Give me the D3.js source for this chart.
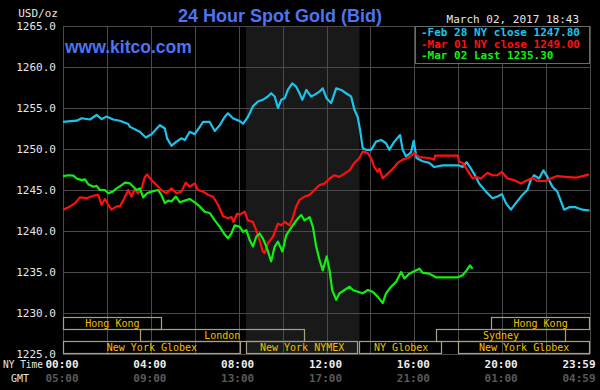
<!DOCTYPE html>
<html>
<head>
<meta charset="utf-8">
<script src="https://cdn.jsdelivr.net/npm/d3@7"></script>
<style>
    html, body { margin: 0; padding: 0; background: #000; }
    svg { display: block; }
</style>
</head>
<body>
<svg id="gold-chart" width="600" height="390"></svg>
<script>
// price ticks (USD/oz)
const priceTicks = [1225, 1230, 1235, 1240, 1245, 1250, 1255, 1260, 1265];

// time axis labels (NY time hour -> labels)
const timeTicks = [0, 4, 8, 12, 16, 20, 24];
const nyLabels = ["00:00", "04:00", "08:00", "12:00", "16:00", "20:00", "23:59"];
const gmtLabels = ["05:00", "09:00", "13:00", "17:00", "21:00", "01:00", "04:59"];

// NYMEX session shading [start, end] in hours
const nymexHours = [8.33, 13.5];

// trading sessions: [name, row, start hour, end hour]
const sessions = [
    ["Hong Kong", 0, 0, 4.5],
    ["Hong Kong", 0, 19.5, 24],
    ["London", 1, 3.5, 11],
    ["Sydney", 1, 17, 22.9],
    ["New York Globex", 2, 0, 8.1],
    ["New York NYMEX", 2, 8.33, 13.45],
    ["NY Globex", 2, 13.5, 17.3],
    ["New York Globex", 2, 18, 24]
];

const legendLabels = ["-Feb 28 NY close 1247.80", "-Mar 01 NY close 1249.00", "-Mar 02 Last 1235.30"];

// [hour, price]
const feb28 = [[0,1253.3],[0.62,1253.45],[0.85,1253.75],[1.23,1253.6],[1.53,1254.15],[1.76,1253.65],[1.98,1253.95],[2.29,1253.6],[2.59,1253.45],[2.97,1253.05],[3.05,1252.7],[3.5,1252.1],[3.77,1251.4],[4.03,1251.8],[4.41,1252.9],[4.64,1252.5],[4.74,1251.3],[4.94,1250.4],[5.17,1250.9],[5.39,1251.3],[5.55,1251.1],[5.77,1252.1],[6.0,1251.8],[6.23,1252.7],[6.38,1253.3],[6.68,1253.3],[6.91,1252.2],[7.14,1252.9],[7.36,1253.9],[7.51,1254.35],[7.74,1253.75],[8.05,1253.4],[8.2,1253.1],[8.42,1253.9],[8.65,1255.2],[8.88,1255.8],[9.1,1256.0],[9.33,1256.4],[9.48,1256.8],[9.64,1256.4],[9.79,1255.0],[9.94,1256.0],[10.1,1256.2],[10.24,1257.2],[10.44,1258.0],[10.62,1257.6],[10.77,1256.8],[10.9,1256.0],[11.08,1257.2],[11.3,1256.4],[11.45,1256.6],[11.68,1257.0],[11.83,1257.4],[12.0,1256.2],[12.21,1255.6],[12.44,1257.4],[12.67,1257.2],[12.89,1256.8],[13.12,1256.4],[13.27,1254.8],[13.42,1253.9],[13.53,1252.3],[13.65,1250.1],[13.8,1249.9],[14.03,1249.9],[14.26,1250.9],[14.49,1251.1],[14.71,1250.7],[14.86,1249.9],[15.09,1250.9],[15.35,1251.7],[15.47,1249.9],[15.62,1249.1],[15.85,1249.6],[15.97,1251.0],[16.1,1248.9],[16.38,1248.5],[16.68,1248.3],[16.91,1247.8],[17.29,1248.0],[18.05,1248.0],[18.2,1247.8],[18.38,1248.4],[18.58,1247.6],[18.8,1246.6],[18.95,1245.8],[19.26,1244.8],[19.56,1244.0],[19.79,1244.2],[19.99,1244.5],[20.17,1243.4],[20.4,1242.6],[20.62,1243.4],[20.92,1244.4],[21.15,1245.0],[21.3,1246.2],[21.45,1246.8],[21.68,1246.4],[21.88,1247.4],[22.06,1246.6],[22.29,1245.4],[22.51,1244.8],[22.82,1242.6],[23.05,1242.9],[23.35,1242.9],[23.65,1242.6],[23.98,1242.5]];

const mar01 = [[0,1242.6],[0.32,1243.0],[0.55,1243.4],[0.77,1244.1],[1.08,1244.0],[1.38,1244.3],[1.6,1244.4],[1.76,1243.2],[1.91,1243.9],[2.06,1243.2],[2.21,1242.6],[2.44,1243.0],[2.59,1243.0],[2.74,1243.7],[2.97,1245.0],[3.12,1244.2],[3.27,1245.1],[3.42,1244.6],[3.58,1245.2],[3.73,1246.6],[3.83,1246.9],[4.03,1246.2],[4.26,1245.6],[4.48,1245.0],[4.71,1244.6],[4.94,1245.2],[5.17,1244.6],[5.39,1244.8],[5.59,1245.9],[5.77,1245.4],[6.0,1245.8],[6.15,1245.0],[6.38,1244.8],[6.61,1244.4],[6.83,1244.2],[7.06,1243.2],[7.29,1241.8],[7.51,1241.55],[7.67,1241.7],[7.77,1241.1],[7.92,1242.1],[8.05,1242.0],[8.27,1242.35],[8.42,1241.3],[8.65,1241.1],[8.8,1240.1],[8.95,1238.9],[9.1,1237.5],[9.18,1237.3],[9.33,1238.5],[9.56,1239.3],[9.79,1240.9],[9.94,1240.7],[10.1,1241.1],[10.32,1240.7],[10.47,1241.7],[10.62,1243.0],[10.77,1243.8],[11.0,1244.2],[11.23,1244.4],[11.45,1245.0],[11.68,1245.6],[11.91,1245.8],[12.14,1246.4],[12.36,1246.8],[12.59,1246.6],[12.82,1247.0],[13.05,1247.4],[13.27,1248.3],[13.5,1248.9],[13.65,1249.7],[13.88,1249.5],[14.03,1248.9],[14.18,1247.8],[14.33,1247.2],[14.41,1247.6],[14.56,1246.4],[14.79,1247.0],[15.02,1247.6],[15.24,1248.3],[15.47,1248.7],[15.7,1248.9],[15.92,1249.3],[16.0,1249.5],[16.23,1249.0],[16.68,1248.9],[16.91,1248.7],[16.95,1249.2],[17.97,1249.2],[18.05,1248.45],[18.2,1248.3],[18.42,1247.4],[18.65,1246.4],[18.8,1246.6],[19.03,1246.4],[19.33,1247.1],[19.56,1246.8],[19.79,1246.8],[19.99,1247.2],[20.24,1246.4],[20.55,1246.2],[20.85,1245.8],[21.15,1246.2],[21.38,1246.5],[21.6,1246.1],[21.98,1246.1],[22.21,1246.4],[22.51,1246.7],[22.89,1246.6],[23.35,1246.5],[23.65,1246.7],[23.95,1246.9]];

const mar02 = [[0,1246.7],[0.24,1246.8],[0.47,1246.75],[0.62,1246.4],[0.85,1246.2],[1.0,1246.3],[1.15,1245.7],[1.38,1245.4],[1.53,1245.5],[1.68,1245.0],[1.91,1245.0],[2.06,1244.6],[2.26,1244.8],[2.44,1245.2],[2.67,1245.6],[2.82,1245.9],[3.05,1245.8],[3.2,1245.4],[3.35,1245.0],[3.5,1245.2],[3.65,1244.1],[3.83,1244.6],[4.03,1244.8],[4.33,1245.0],[4.48,1244.4],[4.64,1243.4],[4.79,1243.7],[4.94,1243.6],[5.14,1244.2],[5.32,1243.5],[5.55,1243.7],[5.77,1243.9],[6.0,1243.5],[6.23,1243.0],[6.45,1242.35],[6.68,1242.2],[6.91,1241.3],[7.14,1240.5],[7.36,1239.6],[7.51,1239.1],[7.67,1239.7],[7.82,1240.7],[8.05,1240.5],[8.2,1239.9],[8.35,1240.1],[8.5,1238.9],[8.65,1238.1],[8.8,1239.3],[8.95,1239.7],[9.1,1239.1],[9.26,1238.1],[9.48,1236.3],[9.64,1238.1],[9.79,1238.7],[9.99,1237.5],[10.17,1239.5],[10.32,1240.1],[10.47,1240.7],[10.7,1241.55],[10.85,1241.95],[11.0,1241.3],[11.23,1241.7],[11.38,1240.5],[11.53,1238.1],[11.68,1236.5],[11.83,1235.2],[12.01,1236.9],[12.14,1235.2],[12.26,1232.8],[12.44,1231.6],[12.59,1232.4],[12.82,1232.8],[13.05,1233.2],[13.2,1232.8],[13.42,1232.6],[13.65,1232.4],[13.88,1232.8],[14.1,1232.6],[14.33,1232.0],[14.56,1231.2],[14.71,1232.4],[14.94,1233.2],[15.17,1233.8],[15.4,1235.0],[15.55,1234.2],[15.77,1234.8],[16.0,1235.1],[16.23,1235.4],[16.38,1234.9],[16.68,1234.8],[16.98,1234.35],[17.97,1234.35],[18.2,1234.6],[18.38,1235.2],[18.53,1235.8],[18.65,1235.4]];

const seriesColors = ["#1cc4ec", "#ff1010", "#10f010"];

const PLOT = { LEFT: 63, RIGHT: 590, TOP: 26, BOTTOM: 354 };
const MONO = "'DejaVu Sans Mono', monospace";
const SANS = "'Liberation Sans', Arial, sans-serif";
const GRID_COLOR = "#4a4a4a";
const BOX_COLOR = "#a8a27a";
const LABEL_COLOR = "#f0c000";

const svg = d3.select("svg#gold-chart");

const x = d3.scaleLinear().domain([0, 24]).range([PLOT.LEFT, PLOT.RIGHT]);
const y = d3.scaleLinear().domain([1225, 1265]).range([PLOT.BOTTOM, PLOT.TOP]);

// background
svg.append("rect").attr("width", 600).attr("height", 390).attr("fill", "#000");

// NYMEX shading
svg.append("rect")
    .attr("x", x(nymexHours[0]))
    .attr("y", PLOT.TOP)
    .attr("width", x(nymexHours[1]) - x(nymexHours[0]))
    .attr("height", PLOT.BOTTOM - PLOT.TOP)
    .attr("fill", "#191919");

// grid
const grid = svg.append("g").attr("class", "grid").attr("shape-rendering", "crispEdges");
grid.selectAll("line.h").data(priceTicks).enter().append("line")
    .attr("x1", PLOT.LEFT).attr("x2", PLOT.RIGHT)
    .attr("y1", d => Math.round(y(d)) + 0.5).attr("y2", d => Math.round(y(d)) + 0.5)
    .attr("stroke", GRID_COLOR);
grid.selectAll("line.v").data(d3.range(0, 25, 2)).enter().append("line")
    .attr("x1", d => Math.round(x(d)) + 0.5).attr("x2", d => Math.round(x(d)) + 0.5)
    .attr("y1", PLOT.TOP).attr("y2", PLOT.BOTTOM)
    .attr("stroke", GRID_COLOR);

// y axis labels
const yAxis = svg.append("g")
    .attr("transform", `translate(${PLOT.LEFT - 4},0)`)
    .call(d3.axisLeft(y).tickValues(priceTicks).tickFormat(d3.format(".1f")).tickSize(0));
yAxis.select(".domain").remove();
yAxis.selectAll("text")
    .attr("fill", "#e6e6e6")
    .attr("font-family", MONO)
    .attr("font-size", 11)
    .attr("dy", "0.35em");

svg.append("text")
    .attr("x", 58).attr("y", 17)
    .attr("text-anchor", "end")
    .attr("fill", "#e6e6e6").attr("font-family", MONO).attr("font-size", 11)
    .text("USD/oz");

// session boxes
const rowTop = d => 317 + d * 12;
const sessionG = svg.append("g").attr("class", "sessions");
sessionG.selectAll("rect").data(sessions).enter().append("rect")
    .attr("x", d => Math.round(x(d[2])) + 0.5)
    .attr("y", d => rowTop(d[1]) + 0.5)
    .attr("width", d => Math.round(x(d[3]) - x(d[2])) - 1)
    .attr("height", 12)
    .attr("fill", "none")
    .attr("stroke", BOX_COLOR)
    .attr("stroke-width", 1.2);
sessionG.selectAll("text").data(sessions).enter().append("text")
    .attr("x", d => (x(d[2]) + x(d[3])) / 2)
    .attr("y", d => rowTop(d[1]) + 10)
    .attr("text-anchor", "middle")
    .attr("fill", LABEL_COLOR)
    .attr("font-family", MONO)
    .attr("font-size", 10)
    .text(d => d[0]);

// price lines
const line = d3.line().x(d => x(d[0])).y(d => y(d[1]));
svg.append("g").attr("class", "series")
    .selectAll("path").data([feb28, mar01, mar02]).enter().append("path")
    .attr("d", line)
    .attr("fill", "none")
    .attr("stroke", (d, i) => seriesColors[i])
    .attr("stroke-width", 2.2)
    .attr("stroke-linejoin", "round");

// legend
svg.append("rect")
    .attr("x", 415.5).attr("y", 26.5).attr("width", 174).attr("height", 37)
    .attr("fill", "#000").attr("stroke", "#6a6a6a");
svg.append("g").attr("class", "legend")
    .selectAll("text").data(legendLabels).enter().append("text")
    .attr("x", 421)
    .attr("y", (d, i) => 36 + i * 11.7)
    .attr("fill", (d, i) => seriesColors[i])
    .attr("font-family", MONO)
    .attr("font-size", 11)
    .attr("font-weight", "bold")
    .text(d => d);

// title, site and timestamp
svg.append("text")
    .attr("x", 280).attr("y", 22)
    .attr("text-anchor", "middle")
    .attr("fill", "#4d74f5").attr("font-family", SANS).attr("font-size", 18).attr("font-weight", "bold")
    .text("24 Hour Spot Gold (Bid)");
svg.append("text")
    .attr("x", 65).attr("y", 52.5)
    .attr("fill", "#4d74f5").attr("font-family", SANS).attr("font-size", 17.5).attr("font-weight", "bold")
    .text("www.kitco.com");
svg.append("text")
    .attr("x", 579).attr("y", 22.5)
    .attr("text-anchor", "end")
    .attr("fill", "#e6e6e6").attr("font-family", MONO).attr("font-size", 11)
    .text("March 02, 2017 18:43");

// time labels
const timeG = svg.append("g").attr("class", "time-axis");
const labelX = (d, i) => i === timeTicks.length - 1 ? 579 : x(d) - 1;
timeG.selectAll("text.ny").data(timeTicks).enter().append("text")
    .attr("x", labelX).attr("y", 368)
    .attr("text-anchor", "middle")
    .attr("fill", "#ececec").attr("font-family", MONO).attr("font-size", 11).attr("font-weight", "bold")
    .text((d, i) => nyLabels[i]);
timeG.selectAll("text.gmt").data(timeTicks).enter().append("text")
    .attr("x", labelX).attr("y", 382)
    .attr("text-anchor", "middle")
    .attr("fill", "#5a5a5a").attr("font-family", MONO).attr("font-size", 11).attr("font-weight", "bold")
    .text((d, i) => gmtLabels[i]);
timeG.append("text")
    .attr("x", 3).attr("y", 368)
    .attr("fill", "#e6e6e6").attr("font-family", MONO).attr("font-size", 10)
    .attr("textLength", 40).attr("lengthAdjust", "spacingAndGlyphs")
    .text("NY Time");
timeG.append("text")
    .attr("x", 11).attr("y", 382)
    .attr("fill", "#e6e6e6").attr("font-family", MONO).attr("font-size", 10)
    .text("GMT");
</script>
</body>
</html>
